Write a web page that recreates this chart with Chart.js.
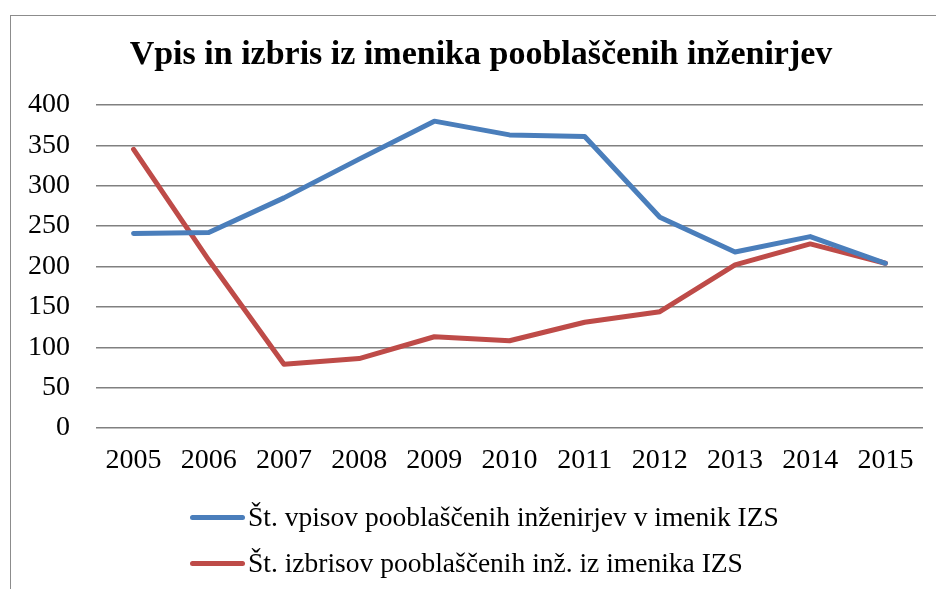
<!DOCTYPE html>
<html>
<head>
<meta charset="utf-8">
<script src="https://cdn.jsdelivr.net/npm/chart.js@4/dist/chart.umd.min.js"></script>
<style>
  html, body { margin: 0; padding: 0; background: #fff; }
  #wrap { position: relative; width: 936px; height: 589px; overflow: hidden; }
  #frame { position: absolute; left: 10px; top: 15px; width: 960px; height: 600px; border: 1px solid #8c8c8c; box-sizing: border-box; }
  #chart { position: absolute; left: 0; top: 0; }
  #title { position: absolute; left: 0; top: 33px; width: 962px; text-align: center; font-family: "Liberation Serif", serif; font-weight: bold; font-size: 34px; line-height: 40px; color: #000; white-space: nowrap; }
  #legend { position: absolute; left: 190px; top: 494px; font-family: "Liberation Serif", serif; font-size: 27.5px; color: #000; }
  .item { display: flex; align-items: center; height: 46px; white-space: nowrap; }
  .swatch { width: 55px; height: 5px; border-radius: 3px; margin-right: 3px; }
</style>
</head>
<body>
<div id="wrap">
  <div id="frame"></div>
  <canvas id="chart" width="936" height="589"></canvas>
  <div id="title"></div>
  <div id="legend"></div>
</div>
<script>
  // chart data
  const years = ['2005', '2006', '2007', '2008', '2009', '2010', '2011', '2012', '2013', '2014', '2015'];
  const vpisi = [241, 242, 285, 333, 380, 363, 361, 261, 218, 237, 204];
  const izbrisi = [345, 208, 79, 86, 113, 108, 131, 144, 202, 228, 204];
  const seriesNames = [
    'Št. vpisov pooblaščenih inženirjev v imenik IZS',
    'Št. izbrisov pooblaščenih inž. iz imenika IZS'
  ];
  const titleText = 'Vpis in izbris iz imenika pooblaščenih inženirjev';

  const fontFamily = '"Liberation Serif", serif';

  // title is centred over the framed box, not the canvas
  document.getElementById('title').textContent = titleText;

  const ctx = document.getElementById('chart').getContext('2d');
  const chart = new Chart(ctx, {
    type: 'line',
    data: {
      labels: years,
      datasets: [
        {
          label: seriesNames[0],
          data: vpisi,
          borderColor: '#4a7ebb',
          borderWidth: 5,
          pointRadius: 0,
          tension: 0,
          borderCapStyle: 'round',
          borderJoinStyle: 'round'
        },
        {
          label: seriesNames[1],
          data: izbrisi,
          borderColor: '#be4b48',
          borderWidth: 5,
          pointRadius: 0,
          tension: 0,
          borderCapStyle: 'round',
          borderJoinStyle: 'round'
        }
      ]
    },
    options: {
      responsive: false,
      animation: false,
      layout: { padding: { top: 105, left: 0, right: 13, bottom: 101 } },
      plugins: {
        legend: { display: false },
        tooltip: { enabled: false },
        title: { display: false }
      },
      scales: {
        x: {
          offset: true,
          grid: { display: false, drawTicks: false },
          border: { display: false },
          ticks: { color: '#000', font: { family: fontFamily, size: 28 }, padding: 16, maxRotation: 0 },
          afterFit: (scale) => { scale.height = 60; }
        },
        y: {
          min: 0,
          max: 400,
          grid: { color: '#808080', lineWidth: 1.5, drawTicks: false },
          border: { display: false },
          ticks: { stepSize: 50, color: '#000', font: { family: fontFamily, size: 28 }, padding: 26 },
          afterFit: (scale) => { scale.width = 96; }
        }
      }
    }
  });

  // legend built from the datasets, stacked like the original
  const legend = document.getElementById('legend');
  chart.data.datasets.forEach(ds => {
    const row = document.createElement('div');
    row.className = 'item';
    const sw = document.createElement('span');
    sw.className = 'swatch';
    sw.style.background = ds.borderColor;
    const txt = document.createElement('span');
    txt.textContent = ds.label;
    row.appendChild(sw);
    row.appendChild(txt);
    legend.appendChild(row);
  });
</script>
</body>
</html>
